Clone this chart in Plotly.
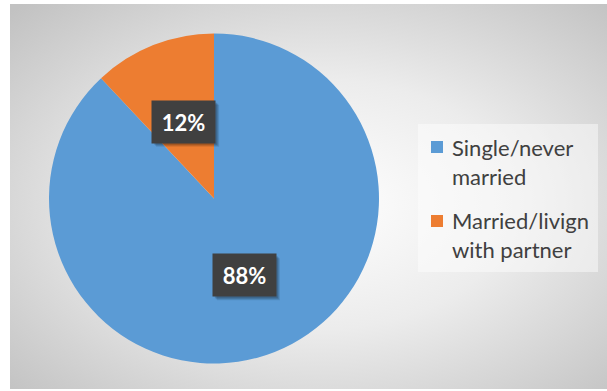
import base64
import math
import plotly.graph_objects as go

# ---- data ----
categories = ["Single/never<br>married", "Married/livign<br>with partner"]
values = [88, 12]
colors = ["#5B9BD5", "#ED7D31"]
label_texts = ["88%", "12%"]

W, H = 607, 391

# pie geometry (pixels)
cx, cy, R = 214.0, 198.5, 165.0
dom_x = [(cx - R) / W, (cx + R) / W]
dom_y = [1 - (cy + R) / H, 1 - (cy - R) / H]

def px2x(px):
    return px / W

def px2y(py):
    return 1 - py / H

# background gradient (svg)
svg = '''<svg xmlns="http://www.w3.org/2000/svg" width="597" height="385">
<defs><radialGradient id="g" cx="0.52" cy="0.52" r="0.72">
<stop offset="0" stop-color="#ffffff"/>
<stop offset="0.45" stop-color="#ececec"/>
<stop offset="1" stop-color="#c2c2c2"/>
</radialGradient></defs>
<rect x="0" y="0" width="597" height="385" fill="url(#g)"/>
</svg>'''
src = "data:image/svg+xml;base64," + base64.b64encode(svg.encode()).decode()

fig = go.Figure()
fig.add_trace(go.Pie(
    labels=categories,
    values=values,
    marker=dict(colors=colors, line=dict(width=0)),
    sort=False,
    direction="clockwise",
    rotation=0,
    textinfo="none",
    hoverinfo="none",
    showlegend=False,
    domain=dict(x=dom_x, y=dom_y),
))

shapes = []
annotations = []

# data labels positioned from values
total = sum(values)
cum = 0
bw, bh = 63, 42
for v, t in zip(values, label_texts):
    mid = (cum + v / 2) / total * 2 * math.pi
    cum += v
    px = cx + 0.5 * R * math.sin(mid)
    py = cy - 0.5 * R * math.cos(mid)
    # soft shadow
    for off, a in [(4, 0.10), (3, 0.12), (2, 0.15)]:
        shapes.append(dict(
            type="rect", xref="paper", yref="paper",
            x0=px2x(px - bw / 2 + off), x1=px2x(px + bw / 2 + off),
            y0=px2y(py + bh / 2 + off), y1=px2y(py - bh / 2 + off),
            fillcolor=f"rgba(0,0,0,{a})", line=dict(width=0), layer="above",
        ))
    annotations.append(dict(
        x=px2x(px), y=px2y(py), xref="paper", yref="paper",
        text=f"<b>{t}</b>", showarrow=False,
        font=dict(family="Lato", size=22, color="white"),
        bgcolor="#404040", borderpad=8, width=bw - 16, height=bh - 16,
        xanchor="center", yanchor="middle",
    ))

# legend (manual, so spacing matches)
shapes.append(dict(
    type="rect", xref="paper", yref="paper",
    x0=px2x(418), x1=px2x(598), y0=px2y(272), y1=px2y(124),
    fillcolor="rgba(255,255,255,0.45)", line=dict(width=0), layer="below",
))
leg_marker_y = [147, 221]
leg_text_y = [161.5, 234.5]
for cat, col, my, ty in zip(categories, colors, leg_marker_y, leg_text_y):
    shapes.append(dict(
        type="rect", xref="paper", yref="paper",
        x0=px2x(431), x1=px2x(443), y0=px2y(my + 6), y1=px2y(my - 6),
        fillcolor=col, line=dict(width=0),
    ))
    annotations.append(dict(
        x=px2x(450), y=px2y(ty), xref="paper", yref="paper",
        text=cat, showarrow=False, align="left",
        font=dict(family="Lato", size=22, color="#404040"),
        xanchor="left", yanchor="middle",
    ))

fig.update_layout(
    width=W, height=H,
    margin=dict(l=0, r=0, t=0, b=0),
    paper_bgcolor="white",
    plot_bgcolor="white",
    images=[dict(source=src, xref="paper", yref="paper",
                 x=10 / W, y=1 - 4 / H, sizex=597 / W, sizey=385 / H,
                 xanchor="left", yanchor="top", sizing="stretch", layer="below")],
    annotations=annotations,
    shapes=shapes,
    showlegend=False,
)

fig.write_html("out.html")
